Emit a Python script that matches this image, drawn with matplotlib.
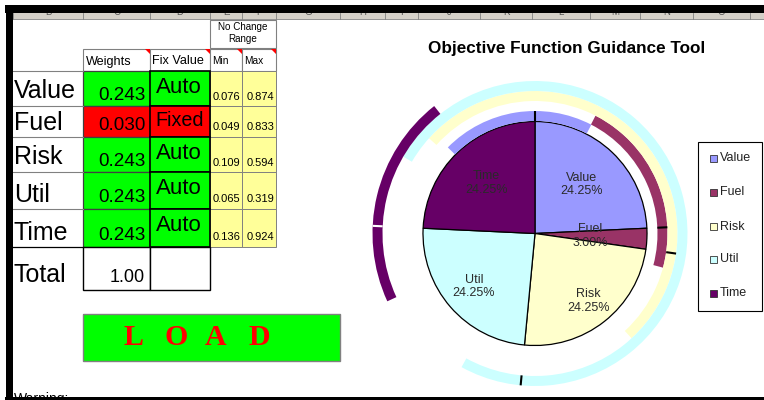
import matplotlib
matplotlib.use("Agg")
import matplotlib.pyplot as plt
from matplotlib.patches import Rectangle, Wedge, Polygon
import numpy as np

# objective criteria and their weights
criteria = ["Value", "Fuel", "Risk", "Util", "Time"]
weights = [0.2425, 0.030, 0.2425, 0.2425, 0.2425]
fix_value = ["Auto", "Fixed", "Auto", "Auto", "Auto"]
# no-change range for each weight
range_min = [0.076, 0.049, 0.109, 0.065, 0.136]
range_max = [0.874, 0.833, 0.594, 0.319, 0.924]
total_weight = 1.00
column_letters = list("BCDEFGHIJKLMNO")

slice_colors = ["#9999FF", "#993366", "#FFFFCC", "#CCFFFF", "#660066"]
tick_colors = ["black", "black", "black", "black", "white"]

SANS = "Liberation Sans"
SERIF = "Liberation Serif"
W, H = 764, 400

col_edges = [13, 83, 150, 210, 242, 276, 340, 385, 418, 480, 532, 590, 640, 693, 750, 764]
row_edges = [71, 106, 137, 172, 209, 247, 290]

fig = plt.figure(figsize=(7.64, 4.0), dpi=100, facecolor="white")
ax = fig.add_axes([0, 0, 1, 1])
ax.set_xlim(0, W)
ax.set_ylim(H, 0)
ax.axis("off")


def box(x0, y0, x1, y1, fc="none", ec="none", lw=0.8, z=2):
    ax.add_patch(Rectangle((x0, y0), x1 - x0, y1 - y0, facecolor=fc,
                           edgecolor=ec, linewidth=lw, zorder=z))


def txt(x, y, s, size, ha="left", va="baseline", **kw):
    kw.setdefault("family", SANS)
    kw.setdefault("color", "black")
    ax.text(x, y, s, fontsize=size, ha=ha, va=va, **kw)


def comment_mark(x1, y0):
    ax.add_patch(Polygon([(x1 - 5, y0), (x1, y0), (x1, y0 + 5)], closed=True,
                         facecolor="red", edgecolor="none", zorder=4))


# sheet frame and column header strip
box(5, 5, W, 12.5, fc="black", z=10)
box(6, 5, 13, H, fc="black", z=10)
box(5, 396.5, W, H, fc="black", z=10)
box(13, 12.5, W, 18.5, fc="#D4D0C8", z=8)
ax.plot([13, W], [18.5, 18.5], color="#808080", lw=0.6, zorder=8)
for x in col_edges:
    ax.plot([x, x], [12.5, 18.5], color="#808080", lw=0.6, zorder=8)
for letter, x0, x1 in zip(column_letters, col_edges[:-1], col_edges[1:]):
    txt((x0 + x1) / 2, 11.8, letter, 7, ha="center", va="center", color="#555555", zorder=9)

# header cells
box(210, 20, 276, 48, fc="white", ec="#808080")
txt(243, 26.5, "No Change", 7.1, ha="center", va="center")
txt(243, 39, "Range", 7.1, ha="center", va="center")
for x0, x1, label, size in [(83, 150, "Weights", 9.1), (150, 210, "Fix Value", 9.1),
                            (210, 242, "Min", 7.3), (242, 276, "Max", 7.3)]:
    box(x0, 49, x1, 71, fc="white", ec="#808080")
    txt(x0 + 2.5, 64.5, label, size)
    comment_mark(x1, 49)

# criteria rows
for i, name in enumerate(criteria):
    y0, y1 = row_edges[i], row_edges[i + 1]
    fixed = fix_value[i] == "Fixed"
    fill = "#FF0000" if fixed else "#00FF00"
    ax.plot([13, 83], [y0, y0], color="#808080", lw=0.8, zorder=3)
    txt(14, y1 - 7.5, name, 18)
    box(83, y0, 150, y1, fc=fill, ec="#404040", lw=0.9)
    txt(146, y1 - 6.5, f"{weights[i] + 1e-9:.3f}", 13.6, ha="right")
    box(150, y0, 210, y1, fc=fill, ec="black", lw=1.2, z=3)
    if fixed:
        txt(155, y0 + 20.5, fix_value[i], 14.2)
    else:
        txt(155.5, y0 + 22, fix_value[i], 16)
    box(210, y0, 242, y1, fc="#FFFF99", ec="#808080", lw=0.7)
    txt(240.5, y1 - 6.5, f"{range_min[i]:.3f}", 8, ha="right")
    box(242, y0, 276, y1, fc="#FFFF99", ec="#808080", lw=0.7)
    txt(274.5, y1 - 6.5, f"{range_max[i]:.3f}", 8, ha="right")

# total row
ax.plot([13, 83], [247, 247], color="black", lw=0.9, zorder=3)
txt(14, 282, "Total", 18)
box(83, 247, 150, 290, fc="white", ec="black", lw=1.0, z=3)
box(150, 247, 210, 290, fc="white", ec="black", lw=1.0, z=3)
txt(145, 282, f"{total_weight:.2f}", 13, ha="right")

# load button
box(83, 314, 340, 361, fc="#00FF00", ec="#808080", lw=1.0)
for letter, x in zip("LOAD", [134, 176, 216, 259.5]):
    txt(x, 345, letter, 21.6, ha="center", family=SERIF, weight="bold", color="red")

txt(14, 392.5, "Warning:", 10, va="top", zorder=5)

# chart title
txt(566.5, 52.7, "Objective Function Guidance Tool", 12.3, ha="center", weight="bold")

# legend
box(698, 142, 762, 311, fc="white", ec="black", lw=0.8)
for name, color, y in zip(criteria, slice_colors, [158.3, 192.3, 226.7, 259, 293.3]):
    box(709.5, y - 3.5, 716.5, y + 3.5, fc=color, ec="#333333", lw=0.6, z=3)
    txt(720, y, name, 9, va="center", color="#222222")

# pie with range rings
cx, cy, half = 535, 233.5, 170
pax = fig.add_axes([(cx - half) / W, (H - cy - half) / H, 2 * half / W, 2 * half / H])
wedges, _ = pax.pie(weights, colors=slice_colors, startangle=90, counterclock=False,
                    radius=112, wedgeprops=dict(edgecolor="black", linewidth=0.9))
pax.set_xlim(-half, half)
pax.set_ylim(-half, half)
pax.set_aspect("equal")
pax.axis("off")

shares = np.array(weights) / np.sum(weights)
label_radius = [68, 55, 86, 81, 70]
for wdg, name, share, r in zip(wedges, criteria, shares, label_radius):
    mid = np.deg2rad((wdg.theta1 + wdg.theta2) / 2)
    pax.text(r * np.cos(mid), r * np.sin(mid), f"{name}\n{share * 100:.2f}%",
             ha="center", va="center", fontsize=9, family=SANS, color="#2a2a2a",
             linespacing=1.15)

starts = np.concatenate([[0], np.cumsum(shares)[:-1]])
ring_base, ring_w = 112.5, 10
for i, (s, mn, mx) in enumerate(zip(starts, range_min, range_max)):
    r_in = ring_base + ring_w * i
    r_out = r_in + ring_w
    th1 = 90 - 360 * (s + 1 + mn)
    th2 = 90 - 360 * (s + mx)
    pax.add_patch(Wedge((0, 0), r_out, th1, th2, width=ring_w,
                        facecolor=slice_colors[i], edgecolor="none"))
    a = np.deg2rad(90 - 360 * s)
    pax.plot([r_in * np.cos(a), r_out * np.cos(a)], [r_in * np.sin(a), r_out * np.sin(a)],
             color=tick_colors[i], lw=1.5, solid_capstyle="butt")

fig.savefig("out.png", dpi=100, facecolor="white")
